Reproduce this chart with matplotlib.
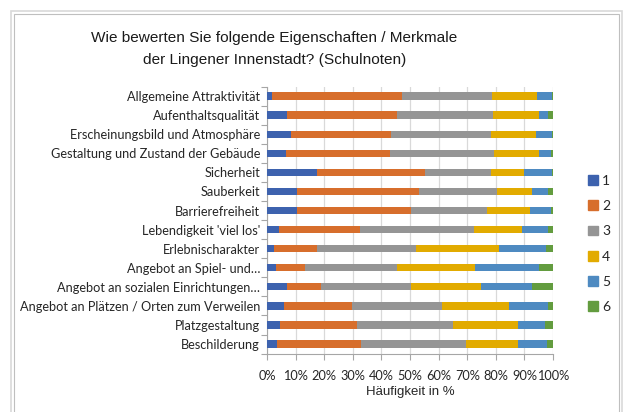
import matplotlib
matplotlib.use("Agg")
import matplotlib.pyplot as plt
from matplotlib.patches import Rectangle
from matplotlib.ticker import FixedLocator, PercentFormatter
import numpy as np

categories = [
    "Allgemeine Attraktivität",
    "Aufenthaltsqualität",
    "Erscheinungsbild und Atmosphäre",
    "Gestaltung und Zustand der Gebäude",
    "Sicherheit",
    "Sauberkeit",
    "Barrierefreiheit",
    "Lebendigkeit 'viel los'",
    "Erlebnischarakter",
    "Angebot an Spiel- und…",
    "Angebot an sozialen Einrichtungen…",
    "Angebot an Plätzen / Orten zum Verweilen",
    "Platzgestaltung",
    "Beschilderung",
]

series_names = ["1", "2", "3", "4", "5", "6"]

note_1 = [1.9, 6.9, 8.3, 6.5, 17.5, 10.5, 10.5, 4.1, 2.3, 3.3, 6.9, 5.8, 4.7, 3.5]
note_2 = [45.2, 38.5, 35.0, 36.5, 37.6, 42.8, 39.7, 28.4, 15.2, 10.0, 11.9, 23.8, 26.6, 29.4]
note_3 = [31.5, 33.7, 35.0, 36.3, 23.1, 27.2, 26.7, 39.8, 34.6, 32.1, 31.7, 31.6, 33.8, 36.7]
note_4 = [15.8, 16.0, 15.9, 15.8, 11.8, 12.3, 15.1, 17.0, 29.1, 27.5, 24.4, 23.5, 22.6, 18.1]
note_5 = [5.4, 3.1, 5.3, 4.3, 9.8, 5.6, 7.4, 9.1, 16.3, 22.2, 17.7, 13.5, 9.4, 10.3]
note_6 = [0.2, 1.8, 0.5, 0.6, 0.2, 1.6, 0.6, 1.6, 2.5, 4.9, 7.4, 1.8, 2.9, 2.0]

x_ticks = [0, 10, 20, 30, 40, 50, 60, 70, 80, 90, 100]

title_line_1 = "Wie bewerten Sie folgende Eigenschaften / Merkmale"
title_line_2 = "der Lingener Innenstadt? (Schulnoten)"
x_label = "Häufigkeit in %"

colors = ["#3D62AE", "#D76E2C", "#959595", "#E2AB00", "#4E8AC1", "#639C3F"]

W, H = 624, 412
fig = plt.figure(figsize=(W / 100, H / 100), dpi=100)

# chart border (double light-gray frame)
fig.patches.append(Rectangle((10.5 / W, -0.01), (622 - 10.5) / W, 1 - 10.5 / H + 0.01,
                             transform=fig.transFigure, fill=False,
                             edgecolor="#D9D9D9", lw=1.2))
fig.patches.append(Rectangle((14 / W, -0.01), (619 - 14) / W, 1 - 14 / H + 0.01,
                             transform=fig.transFigure, fill=False,
                             edgecolor="#BFBFBF", lw=0.8))

ax_left, ax_right = 267 / W, 553 / W
ax_top, ax_bot = 1 - 86.5 / H, 1 - 353.6 / H
ax = fig.add_axes([ax_left, ax_bot, ax_right - ax_left, ax_top - ax_bot])

data = [note_1, note_2, note_3, note_4, note_5, note_6]
y = np.arange(len(categories))
left = np.zeros(len(categories))
for name, vals, c in zip(series_names, data, colors):
    vals = np.array(vals)
    ax.barh(y, vals, left=left, height=0.38, color=c, label=name, zorder=3)
    left += vals

ax.set_xlim(0, 100)
ax.set_ylim(len(categories) - 0.5, -0.5)
ax.set_xticks(x_ticks)
ax.xaxis.set_major_formatter(PercentFormatter(decimals=0))
ax.set_yticks(y)
ax.set_yticklabels(categories, fontsize=9.2, family=["Lato", "DejaVu Sans"], color="#262626")
ax.yaxis.set_minor_locator(FixedLocator(np.arange(-0.5, len(categories), 1)))
ax.tick_params(axis="y", which="major", length=0, pad=5)
ax.tick_params(axis="y", which="minor", length=4, color="#A6A6A6", width=0.8)
ax.tick_params(axis="x", length=4, color="#A6A6A6", width=0.8, pad=8,
               labelsize=9.2, labelcolor="#262626")
for lab in ax.get_xticklabels():
    lab.set_family(["Lato", "DejaVu Sans"])

ax.grid(axis="x", color="#D9D9D9", lw=0.9, zorder=0)
for s in ["top", "right"]:
    ax.spines[s].set_visible(False)
for s in ["left", "bottom"]:
    ax.spines[s].set_color("#A6A6A6")
    ax.spines[s].set_linewidth(0.8)

fig.text(274.5 / W, 1 - 38 / H, title_line_1,
         ha="center", va="center", fontsize=11.1, family="Liberation Sans", color="#1a1a1a")
fig.text(274.5 / W, 1 - 60 / H, title_line_2,
         ha="center", va="center", fontsize=11.1, family="Liberation Sans", color="#1a1a1a")

fig.text(410 / W, 1 - 392 / H, x_label, ha="center", va="center",
         fontsize=9.5, family="Liberation Sans", color="#262626")

# legend
handles = [Rectangle((0, 0), 1, 1, color=c) for c in colors]
leg = fig.legend(handles, series_names, loc="center left",
                 bbox_to_anchor=(577 / W, 1 - 244 / H), frameon=False,
                 handlelength=0.7, handleheight=0.7, handletextpad=0.3,
                 labelspacing=0.95, borderpad=0.3,
                 prop={"family": ["Lato", "DejaVu Sans"], "size": 10})
for t in leg.get_texts():
    t.set_color("#262626")

fig.savefig("out.png", dpi=100)
